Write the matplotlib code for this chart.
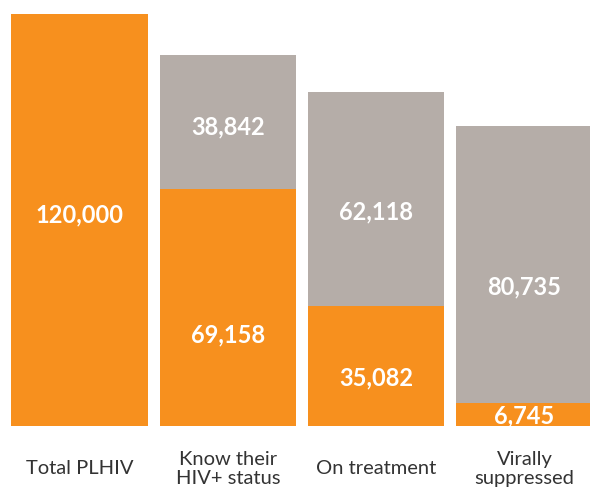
import matplotlib
matplotlib.use("Agg")
import matplotlib.pyplot as plt
import matplotlib.transforms as mtransforms

# data
categories = ["Total PLHIV", "Know their\nHIV+ status", "On treatment", "Virally\nsuppressed"]
achieved = [120000, 69158, 35082, 6745]
gap = [0, 38842, 62118, 80735]

# where the number labels sit (data units), as in the original layout
achieved_label_y = [61500, 26500, 14000, 3000]
gap_label_y = [None, 87100, 62300, 40500]

ORANGE = "#F7901E"
GREY = "#B5ADA8"

plt.rcParams['font.family'] = ['Lato', 'DejaVu Sans']

fig = plt.figure(figsize=(5.9, 4.93), dpi=100)
ax = fig.add_axes([0, 1 - 426 / 493, 1, 412 / 493])

x = range(len(categories))
w = 0.917
ax.bar(x, achieved, width=w, color=ORANGE)
ax.bar(x, gap, width=w, bottom=achieved, color=GREY)

for i in x:
    ax.text(i, achieved_label_y[i], "{:,}".format(achieved[i]), ha="center", va="center",
            color="white", fontsize=17, fontweight="bold")
    if gap[i]:
        ax.text(i, gap_label_y[i], "{:,}".format(gap[i]), ha="center", va="center",
                color="white", fontsize=17, fontweight="bold")

trans = mtransforms.blended_transform_factory(ax.transData, fig.transFigure)
for i, lab in enumerate(categories):
    ax.text(i, 1 - 469 / 493, lab, ha="center", va="center", transform=trans,
            color="#333333", fontsize=14.5, linespacing=1.2)

ax.set_xlim(-0.536, 3.442)
ax.set_ylim(0, 120000)
ax.axis("off")

fig.savefig("out.png", dpi=100)
